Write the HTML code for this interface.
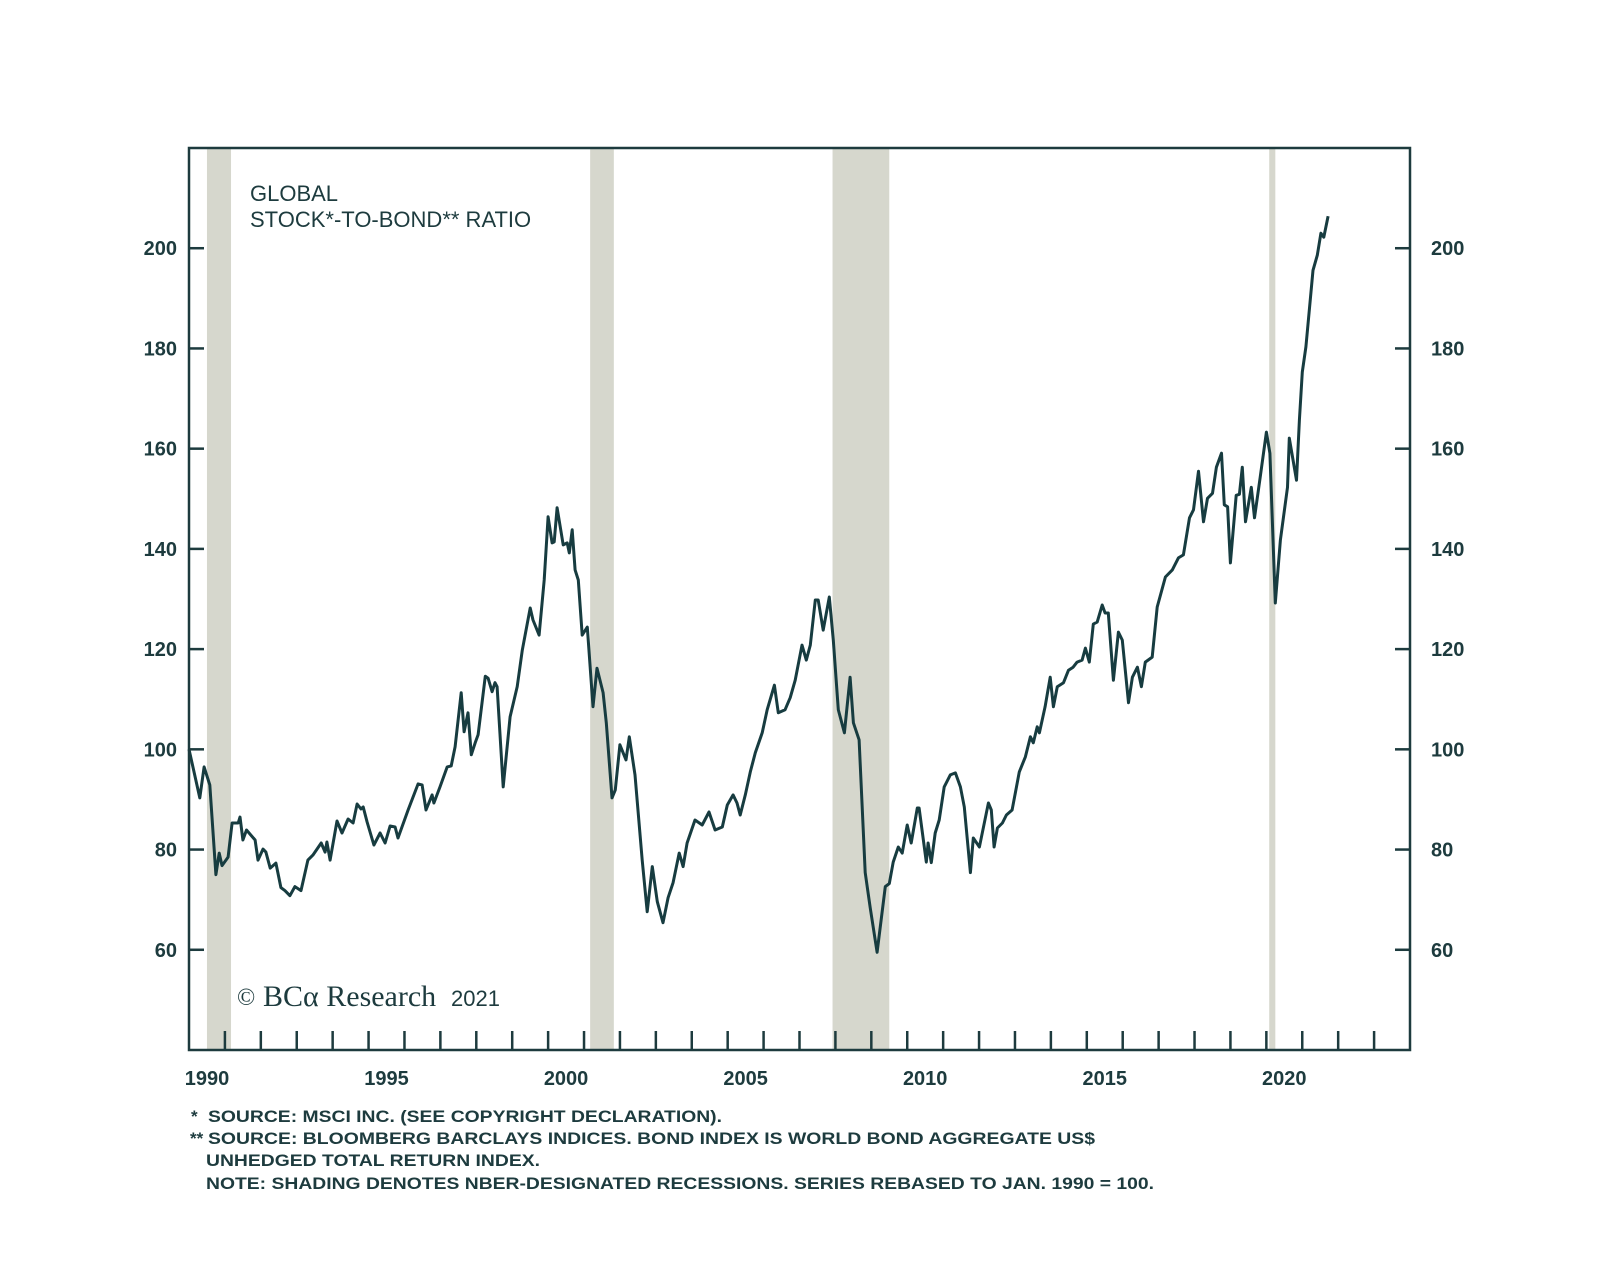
<!DOCTYPE html>
<html>
<head>
<meta charset="utf-8">
<style>
  html,body{margin:0;padding:0;background:#fff;}
  svg{display:block;}
  text{font-family:"Liberation Sans",Arial,sans-serif;fill:#1d3b3e;}
</style>
</head>
<body>
<svg id="chart" width="1600" height="1261" viewBox="0 0 1600 1261" xmlns="http://www.w3.org/2000/svg">
  <rect x="0" y="0" width="1600" height="1261" fill="#ffffff"/>
  <g id="recessions"></g>
  <g id="series"></g>
  <g id="axes"></g>
  <text x="250" y="201" font-size="22">GLOBAL</text>
  <text x="250" y="227" font-size="22">STOCK*-TO-BOND** RATIO</text>
  <g>
    <text x="237" y="1005" style="font-family:'Liberation Serif',serif;font-size:24px">©</text>
    <text x="263" y="1006" style="font-family:'Liberation Serif',serif;font-size:30px">BCα Research</text>
    <text x="451" y="1006" style="font-family:'Liberation Sans',sans-serif;font-size:22px">2021</text>
  </g>
  <g font-weight="bold" font-size="17">
    <text x="191" y="1122">*</text>
    <text x="208" y="1122" textLength="514" lengthAdjust="spacingAndGlyphs">SOURCE: MSCI INC. (SEE COPYRIGHT DECLARATION).</text>
    <text x="190" y="1144">**</text>
    <text x="208" y="1144" textLength="887" lengthAdjust="spacingAndGlyphs">SOURCE: BLOOMBERG BARCLAYS INDICES. BOND INDEX IS WORLD BOND AGGREGATE US$</text>
    <text x="206" y="1166" textLength="334" lengthAdjust="spacingAndGlyphs">UNHEDGED TOTAL RETURN INDEX.</text>
    <text x="206" y="1189" textLength="948" lengthAdjust="spacingAndGlyphs">NOTE: SHADING DENOTES NBER-DESIGNATED RECESSIONS. SERIES REBASED TO JAN. 1990 = 100.</text>
  </g>
</svg>
<script>
const years = [1990,1990.3,1990.42,1990.58,1990.75,1990.84,1990.92,1991.09,1991.2,1991.37,1991.42,1991.5,1991.6,1991.84,1991.92,1992.06,1992.14,1992.26,1992.42,1992.56,1992.67,1992.81,1992.95,1993.12,1993.31,1993.45,1993.68,1993.79,1993.84,1993.93,1994.12,1994.26,1994.43,1994.57,1994.68,1994.79,1994.85,1994.96,1995.15,1995.32,1995.46,1995.6,1995.74,1995.82,1996.1,1996.38,1996.49,1996.6,1996.77,1996.82,1996.99,1997.19,1997.3,1997.41,1997.58,1997.66,1997.77,1997.86,1997.97,1998.05,1998.25,1998.33,1998.44,1998.52,1998.58,1998.75,1998.94,1999.14,1999.28,1999.5,1999.58,1999.75,1999.89,2000,2000.11,2000.17,2000.25,2000.42,2000.53,2000.59,2000.67,2000.75,2000.84,2000.95,2001.09,2001.25,2001.36,2001.53,2001.62,2001.78,2001.87,2002,2002.17,2002.26,2002.42,2002.62,2002.76,2002.9,2003.04,2003.2,2003.34,2003.48,2003.65,2003.76,2003.87,2004.09,2004.29,2004.48,2004.65,2004.85,2004.99,2005.15,2005.26,2005.35,2005.49,2005.63,2005.77,2005.96,2006.1,2006.3,2006.41,2006.6,2006.74,2006.88,2007.07,2007.19,2007.3,2007.44,2007.52,2007.66,2007.83,2007.94,2008.08,2008.25,2008.41,2008.5,2008.66,2008.83,2008.97,2009.16,2009.39,2009.5,2009.61,2009.75,2009.86,2010,2010.11,2010.28,2010.33,2010.53,2010.58,2010.67,2010.78,2010.89,2011.03,2011.2,2011.34,2011.48,2011.59,2011.76,2011.84,2012.01,2012.26,2012.34,2012.42,2012.51,2012.65,2012.76,2012.92,2013.12,2013.29,2013.43,2013.51,2013.62,2013.68,2013.84,2013.98,2014.07,2014.18,2014.35,2014.49,2014.62,2014.73,2014.87,2014.96,2015.07,2015.18,2015.29,2015.43,2015.51,2015.6,2015.74,2015.88,2015.99,2016.16,2016.27,2016.41,2016.52,2016.63,2016.82,2016.96,2017.19,2017.38,2017.55,2017.69,2017.86,2017.97,2018.11,2018.25,2018.36,2018.5,2018.61,2018.75,2018.83,2018.92,2019.0,2019.16,2019.25,2019.33,2019.42,2019.58,2019.67,2019.83,2020.0,2020.1,2020.25,2020.39,2020.59,2020.64,2020.84,2020.92,2021.0,2021.1,2021.3,2021.42,2021.52,2021.6,2021.72];
const ratio = [100,90.3,96.5,92.9,75.0,79.3,76.8,78.5,85.3,85.3,86.5,81.9,83.9,81.9,77.9,80.1,79.5,76.3,77.3,72.4,71.8,70.8,72.6,71.8,77.9,78.9,81.3,79.5,81.5,77.9,85.7,83.3,86.1,85.3,89.1,88.1,88.5,85.5,80.9,83.3,81.3,84.7,84.5,82.3,87.9,93.1,92.9,87.9,90.9,89.3,92.5,96.5,96.7,100.5,111.3,103.5,107.3,98.9,101.3,102.9,114.6,114.2,111.5,113.3,112.5,92.5,106.5,112.5,119.8,128.2,125.8,122.8,133.8,146.4,141.2,141.4,148.2,140.8,141.2,139.2,143.8,135.8,133.8,122.8,124.4,108.5,116.2,111.3,105.3,90.3,91.9,100.9,97.9,102.5,94.9,77.9,67.6,76.6,69.6,65.4,70.4,73.4,79.3,76.6,81.3,85.9,84.9,87.5,83.9,84.5,88.9,90.9,89.3,86.9,90.9,95.5,99.3,103.3,107.9,112.8,107.3,107.9,110.3,113.8,120.8,117.8,120.8,129.8,129.8,123.8,130.4,121.8,107.9,103.3,114.4,105.3,101.9,75.4,68.4,59.5,72.6,73.2,77.5,80.5,79.3,84.9,81.3,88.3,88.3,77.5,81.3,77.4,83.3,85.9,92.5,94.9,95.3,92.5,88.5,75.4,82.3,80.5,89.3,87.9,80.5,84.3,85.3,86.9,87.9,95.5,98.5,102.5,101.3,104.5,103.3,108.5,114.4,108.5,112.5,113.3,115.8,116.4,117.4,117.8,120.2,117.4,125.0,125.4,128.8,127.2,127.2,113.8,123.4,121.8,109.3,114.4,116.4,112.5,117.4,118.4,128.4,134.4,135.8,138.2,138.8,146.2,147.8,155.5,145.4,150.1,151.1,156.3,159.1,148.8,148.4,137.2,150.7,150.9,156.3,145.4,152.3,146.2,154.3,163.3,159.1,129.2,141.8,152.3,162.1,153.7,165.7,175.3,180.3,195.6,198.6,203.0,202.2,206.4];
const recessionStart = [1990.5, 2001.17, 2007.92, 2020.08];
const recessionEnd = [1991.17, 2001.83, 2009.5, 2020.25];
const yTicks = [60,80,100,120,140,160,180,200];
const yearLabels = [1990,1995,2000,2005,2010,2015,2020];

const NS = "http://www.w3.org/2000/svg";
const L = 189, R = 1410, T = 148, B = 1050;
const X0 = 1990, X1 = 2024, Y0 = 40, Y1 = 220;
const xs = t => L + (t - X0) / (X1 - X0) * (R - L);
const ys = v => B - (v - Y0) / (Y1 - Y0) * (B - T);
function mk(tag, attrs, parent){ const e=document.createElementNS(NS,tag); for(const k in attrs) e.setAttribute(k,attrs[k]); parent.appendChild(e); return e; }

const rg = document.getElementById('recessions');
recessionStart.forEach((s,i)=>{
  const r = mk('rect',{x:xs(s),y:T,width:xs(recessionEnd[i])-xs(s),height:B-T,fill:'#d6d7cd'},rg);
  
  
});

const sg = document.getElementById('series');
const d = years.map((t,i)=>(i?'L':'M')+xs(t).toFixed(1)+','+ys(ratio[i]).toFixed(1)).join(' ');
const line = mk('path',{d:d,fill:'none',stroke:'#173c40','stroke-width':3,'stroke-linejoin':'round'},sg);



const ag = document.getElementById('axes');
const frame = mk('rect',{x:L,y:T,width:R-L,height:B-T,fill:'none',stroke:'#1d3b3e','stroke-width':2.5},ag);


yTicks.forEach(v=>{
  const y = ys(v);
  mk('line',{x1:L,x2:L+15,y1:y,y2:y,stroke:'#1d3b3e','stroke-width':2.5},ag);
  mk('line',{x1:R-15,x2:R,y1:y,y2:y,stroke:'#1d3b3e','stroke-width':2.5},ag);
  const tl = mk('text',{x:177,y:y+7,'text-anchor':'end','font-size':20,'font-weight':'bold'},ag);
  tl.textContent = v;
  
  
  const tr = mk('text',{x:1431,y:y+7,'text-anchor':'start','font-size':20,'font-weight':'bold'},ag);
  tr.textContent = v;
  
  
});
for(let yr=1991; yr<=2023; yr++){
  const x = xs(yr);
  mk('line',{x1:x,x2:x,y1:B-19,y2:B,stroke:'#1d3b3e','stroke-width':2.5},ag);
}
yearLabels.forEach(yr=>{
  const t = mk('text',{x:xs(yr+0.5),y:1085,'text-anchor':'middle','font-size':20,'font-weight':'bold'},ag);
  t.textContent = yr;
  
  
});
</script>
</body>
</html>
